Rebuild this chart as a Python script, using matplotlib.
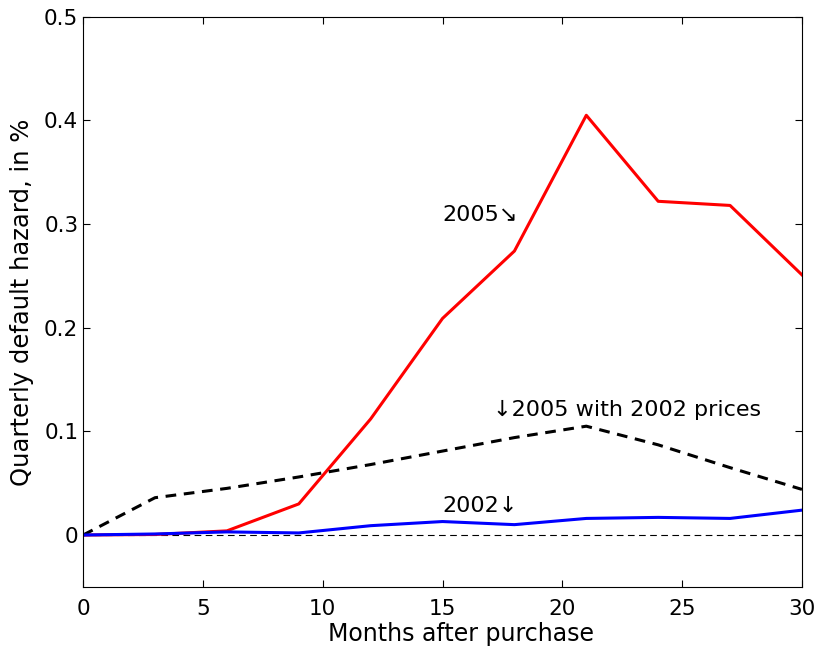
import matplotlib
matplotlib.use("Agg")
from matplotlib import pyplot as plt

months = [0, 3, 6, 9, 12, 15, 18, 21, 24, 27, 30]
hazard_2005 = [0.0, 0.0005, 0.004, 0.030, 0.112, 0.209, 0.274, 0.405, 0.322, 0.318, 0.251]
hazard_2005_2002_prices = [0.0, 0.036, 0.045, 0.056, 0.068, 0.081, 0.094, 0.105, 0.087, 0.065, 0.044]
hazard_2002 = [0.0, 0.001, 0.003, 0.002, 0.009, 0.013, 0.010, 0.016, 0.017, 0.016, 0.024]

plt.rcParams['font.family'] = ['DejaVu Sans']
plt.rcParams['font.size'] = 16

fig = plt.figure(figsize=(8.15, 6.47), dpi=100)
ax = fig.add_axes([0.102, 0.093, 0.882, 0.881])

ax.axhline(0, color='black', lw=0.8, ls=(0, (6, 4)))
ax.plot(months, hazard_2005, color='red', lw=2.2)
ax.plot(months, hazard_2005_2002_prices, color='black', lw=2.2, ls=(0, (3.5, 2.5)))
ax.plot(months, hazard_2002, color='blue', lw=2.2)

ax.text(15, 0.309, u"2005\u2198", fontsize=16, ha='left', va='center')
ax.text(17.1, 0.121, u"\u21932005 with 2002 prices", fontsize=16, ha='left', va='center')
ax.text(15, 0.028, u"2002\u2193", fontsize=16, ha='left', va='center')

ax.set_xlim(0, 30)
ax.set_ylim(-0.05, 0.5)
ax.set_xticks([0, 5, 10, 15, 20, 25, 30])
ax.set_yticks([0, 0.1, 0.2, 0.3, 0.4, 0.5])
ax.set_yticklabels(['0', '0.1', '0.2', '0.3', '0.4', '0.5'])
ax.tick_params(direction='in', top=True, right=True, length=5, labelsize=15.5)
ax.tick_params(axis='x', pad=9)
ax.set_xlabel('Months after purchase', fontsize=17)
ax.xaxis.set_label_coords(0.526, -0.061)
ax.set_ylabel('Quarterly default hazard, in %', fontsize=17.5, labelpad=7)

fig.savefig('out.png', dpi=100)
